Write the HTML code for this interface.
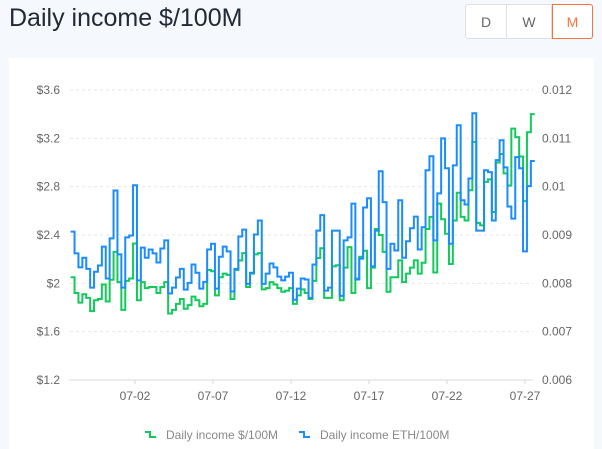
<!DOCTYPE html>
<html><head><meta charset="utf-8"><style>
body{margin:0;width:602px;height:449px;background:#f5f8fc;font-family:"Liberation Sans",sans-serif;overflow:hidden;position:relative}
.title{position:absolute;left:9px;top:4px;font-size:25px;color:#222a35}
.btns{position:absolute;left:465px;top:4px;width:128px;height:35px;border:1px solid #dcdfe3;border-radius:3px;background:#fff;display:flex;box-sizing:border-box}
.btns div{flex:1;display:flex;align-items:center;justify-content:center;font-size:14px;color:#666;border-right:1px solid #dcdfe3}
.btns div:last-child{border:1px solid #f5743d;color:#f5743d;border-radius:0 3px 3px 0;margin:-1px -1px -1px 0}
.panel{position:absolute;left:9px;top:58px;width:585px;height:391px;background:#fff}
svg{position:absolute;left:0;top:0}
</style></head><body>
<div class="title">Daily income $/100M</div>
<div class="btns">
<div style="flex:0 0 40px">D</div>
<div style="flex:0 0 44px">W</div>
<div>M</div>
</div>
<div class="panel"></div>
<svg id="chart" width="602" height="449"></svg>
<script>
const usd=[2.05,1.92,1.84,1.91,1.88,1.77,1.86,1.87,1.99,1.85,2.03,2.26,2.01,1.78,2.02,2.04,2.33,1.86,2.01,1.96,1.97,1.97,1.92,1.97,2.01,1.75,1.78,1.83,1.87,1.79,1.82,1.89,1.86,1.81,1.83,2.11,2.10,1.90,2.05,2.08,2.07,1.87,2.11,2.19,2.25,1.97,2.08,2.24,2.25,1.95,1.96,2.01,1.99,1.96,1.93,1.94,1.96,1.83,1.90,1.95,1.92,1.87,
2.02,2.21,2.29,1.88,1.88,2.14,2.15,1.86,2.13,2.30,1.92,2.04,2.22,2.27,1.96,2.13,2.45,2.40,2.26,1.93,2.05,2.05,2.19,2.01,2.08,2.13,2.19,2.08,2.17,2.45,2.55,2.09,2.66,2.53,2.41,2.16,2.52,2.75,2.55,2.52,2.77,3.17,2.50,2.48,2.84,2.86,2.59,3.00,3.07,2.91,2.81,3.28,3.21,3.05,2.68,3.25,3.40];
const eth=[9.07,8.62,8.33,8.53,8.30,7.91,8.24,8.37,8.76,8.10,8.93,9.92,8.60,7.91,8.95,8.99,10.03,8.06,8.74,8.53,8.70,8.62,8.43,8.72,8.89,7.79,7.91,8.12,8.30,7.87,8.01,8.39,8.22,7.89,8.03,8.70,8.82,7.89,8.55,8.76,8.66,7.83,8.30,8.97,9.11,7.99,8.22,9.01,9.30,7.99,8.20,8.41,8.33,8.14,8.06,8.14,8.22,7.66,7.89,8.10,8.08,7.70,
8.39,9.09,9.41,7.85,7.91,9.09,9.09,7.74,8.89,8.95,9.65,8.08,8.51,9.57,9.76,8.35,9.09,10.32,9.68,8.30,8.82,8.68,9.72,8.53,8.87,9.14,9.38,8.70,9.16,10.34,10.63,8.89,9.86,11.00,10.38,8.82,10.44,11.27,9.72,9.63,10.17,11.52,9.09,9.09,10.34,10.30,9.30,10.55,10.96,10.40,9.59,9.34,10.61,10.38,8.66,10.01,10.53].map(v=>v/1000);
const leftTicks=[1.2,1.6,2,2.4,2.8,3.2,3.6];
const leftLabels=["$1.2","$1.6","$2","$2.4","$2.8","$3.2","$3.6"];
const rightTicks=[0.006,0.007,0.008,0.009,0.01,0.011,0.012];
const dateLabels=["07-02","07-07","07-12","07-17","07-22","07-27"];
const dateIndex=[16,36,56,76,96,116];

const NS="http://www.w3.org/2000/svg",svg=document.getElementById('chart');
const X0=72.6,DX=3.9,Y0=90,Y1=380;
const x=i=>X0+i*DX;
const yL=v=>Y1-(v-1.2)/(3.6-1.2)*(Y1-Y0);
const yR=v=>Y1-(v-0.006)/(0.012-0.006)*(Y1-Y0);
function mk(t,a){const e=document.createElementNS(NS,t);for(const k in a)e.setAttribute(k,a[k]);svg.appendChild(e);return e;}
leftTicks.forEach((t,i)=>{
  const y=yL(t);
  if(i>0){const g=mk('line',{x1:70,x2:533,y1:y,y2:y,stroke:'#e6e6e6','stroke-dasharray':'3,3'});
  
  }
  const l=mk('text',{x:60,y:y+4,'text-anchor':'end','font-size':12,fill:'#666'});l.textContent=leftLabels[i];
  
  
});
rightTicks.forEach(t=>{
  const l=mk('text',{x:542,y:yR(t)+4,'font-size':12,fill:'#666'});l.textContent=String(t);
  
  
});
const ax=mk('line',{x1:69,x2:533,y1:Y1,y2:Y1,stroke:'#d9d9d9','stroke-width':1});


dateLabels.forEach((d,i)=>{
  const xx=x(dateIndex[i]);
  const tk=mk('line',{x1:xx,x2:xx,y1:Y1,y2:Y1+4,stroke:'#d9d9d9'});
  
  
  const l=mk('text',{x:xx,y:Y1+20,'text-anchor':'middle','font-size':12,fill:'#666'});l.textContent=d;
  
  
});
function stepPath(vals,yf){
  let d='';vals.forEach((v,i)=>{const a=x(i)-DX/2,b=x(i)+DX/2,y=yf(v);d+=(i?'L':'M')+a+','+y+'L'+b+','+y;});return d;}
const g=mk('path',{d:stepPath(usd,yL),fill:'none',stroke:'#12c95a','stroke-width':2});


const b=mk('path',{d:stepPath(eth,yR),fill:'none',stroke:'#1a8cff','stroke-width':2});


// legend
function legend(x0,color,text,name){
  const p=mk('path',{d:`M${x0},${432}L${x0+5},432L${x0+5},437L${x0+11},437`,fill:'none',stroke:color,'stroke-width':2});
  
  
  const t=mk('text',{x:x0+21,y:439,'font-size':12,fill:'#888'});t.textContent=text;
  
  
}
legend(145,'#12c95a','Daily income $/100M','legend-usd');
legend(299,'#1a8cff','Daily income ETH/100M','legend-eth');
</script>
</body></html>
